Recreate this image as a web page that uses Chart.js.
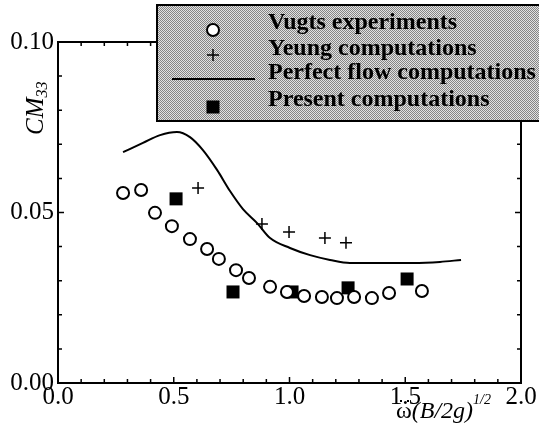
<!DOCTYPE html>
<html>
<head>
<meta charset="utf-8">
<script src="https://cdn.jsdelivr.net/npm/chart.js@4.4.1/dist/chart.umd.min.js"></script>
<style>
  body { margin: 0; background: #fff; }
  canvas { display: block; }
</style>
</head>
<body>
<canvas id="cm33" width="539" height="430"></canvas>
<script>
// Data
const vugtsX = [0.281, 0.359, 0.419, 0.492, 0.570, 0.644, 0.695, 0.769, 0.825, 0.916, 0.989, 1.063, 1.140, 1.205, 1.279, 1.356, 1.430, 1.572];
const vugtsY = [0.0557, 0.0566, 0.0499, 0.0460, 0.0422, 0.0393, 0.0364, 0.0331, 0.0308, 0.0282, 0.0267, 0.0255, 0.0252, 0.0249, 0.0252, 0.0249, 0.0264, 0.0270];

const yeungX = [0.605, 0.881, 0.998, 1.153, 1.244];
const yeungY = [0.0572, 0.0466, 0.0443, 0.0425, 0.0411];

const perfectX = [0.281, 0.367, 0.441, 0.514, 0.570, 0.626, 0.687, 0.743, 0.799, 0.860, 0.916, 1.002, 1.089, 1.175, 1.261, 1.348, 1.434, 1.533, 1.650, 1.741];
const perfectY = [0.0677, 0.0704, 0.0727, 0.0736, 0.0721, 0.0683, 0.0625, 0.0563, 0.0510, 0.0469, 0.0425, 0.0396, 0.0375, 0.0361, 0.0352, 0.0352, 0.0352, 0.0352, 0.0355, 0.0361];

const presentX = [0.510, 0.756, 1.011, 1.253, 1.508];
const presentY = [0.0540, 0.0267, 0.0267, 0.0279, 0.0305];

const xTicks = [0.0, 0.5, 1.0, 1.5, 2.0];
const xTickLabels = ['0.0', '0.5', '1.0', '1.5', '2.0'];
const yTicks = [0.0, 0.05, 0.10];
const yTickLabels = ['0.00', '0.05', '0.10'];

const legendLabels = ['Vugts experiments', 'Yeung computations', 'Perfect flow computations', 'Present computations'];

function pts(xs, ys) {
  return xs.map((x, i) => ({ x: x, y: ys[i] }));
}

const SERIF = '"Liberation Serif", "DejaVu Serif", serif';

// stippled grey like the scanned legend box
function stipple(ctx) {
  const c = document.createElement('canvas');
  c.width = 4; c.height = 4;
  const p = c.getContext('2d');
  p.fillStyle = '#e2e2e2';
  p.fillRect(0, 0, 4, 4);
  p.fillStyle = '#858585';
  p.fillRect(0, 0, 1, 1); p.fillRect(2, 0, 1, 1);
  p.fillRect(1, 1, 1, 1); p.fillRect(3, 1, 1, 1);
  p.fillRect(0, 2, 1, 1); p.fillRect(2, 2, 1, 1);
  p.fillRect(1, 3, 1, 1); p.fillRect(3, 3, 1, 1);
  return ctx.createPattern(c, 'repeat');
}

const framePlugin = {
  id: 'frame',
  afterDatasetsDraw(chart) {
    const ctx = chart.ctx;
    const xs = chart.scales.x, ys = chart.scales.y;
    const L = xs.left, R = xs.right, T = ys.top, B = ys.bottom;
    const boxL = 157, boxT = 5, boxB = 121;

    ctx.save();
    ctx.strokeStyle = '#000';
    ctx.lineWidth = 2;
    ctx.beginPath();
    ctx.moveTo(boxL, T); ctx.lineTo(L, T); ctx.lineTo(L, B);
    ctx.lineTo(R, B); ctx.lineTo(R, boxB);
    ctx.stroke();

    // ticks (inward)
    ctx.lineWidth = 1.5;
    ctx.beginPath();
    for (let i = 0; i <= 20; i++) {
      const v = i / 10;
      const px = xs.getPixelForValue(v);
      const len = (i % 5 === 0) ? 6 : 4;
      ctx.moveTo(px, B); ctx.lineTo(px, B - len);
      if (px < boxL) { ctx.moveTo(px, T); ctx.lineTo(px, T + len); }
    }
    for (let i = 0; i <= 10; i++) {
      const v = i / 100;
      const py = ys.getPixelForValue(v);
      const len = (i % 5 === 0) ? 6 : 4;
      ctx.moveTo(L, py); ctx.lineTo(L + len, py);
      if (py > boxB) { ctx.moveTo(R, py); ctx.lineTo(R - len, py); }
    }
    ctx.stroke();

    // tick labels
    ctx.fillStyle = '#000';
    ctx.font = '25px ' + SERIF;
    ctx.textBaseline = 'middle';
    ctx.textAlign = 'center';
    xTicks.forEach((v, i) => {
      ctx.fillText(xTickLabels[i], xs.getPixelForValue(v), B + 14);
    });
    ctx.textAlign = 'right';
    yTicks.forEach((v, i) => {
      ctx.fillText(yTickLabels[i], L - 4, ys.getPixelForValue(v));
    });

    // y title: CM33 rotated
    ctx.save();
    ctx.translate(36, 110);
    ctx.rotate(-Math.PI / 2);
    ctx.textAlign = 'left';
    ctx.textBaseline = 'middle';
    ctx.font = 'italic 25px ' + SERIF;
    const cmW = ctx.measureText('CM').width;
    ctx.fillText('CM', -25, 0);
    ctx.font = 'italic 16px ' + SERIF;
    ctx.fillText('33', -25 + cmW, 7);
    ctx.restore();

    // x title: ω(B/2g)^1/2
    ctx.textAlign = 'left';
    ctx.textBaseline = 'alphabetic';
    let x0 = 396;
    const base = 418;
    ctx.font = '24px ' + SERIF;
    ctx.fillText('ω', x0, base);
    const wW = ctx.measureText('ω').width;
    ctx.fillRect(x0 + 4, base - 18, 2, 2);
    ctx.fillRect(x0 + 11, base - 18, 2, 2);
    x0 += wW;
    ctx.font = 'italic 24px ' + SERIF;
    ctx.fillText('(B/2g)', x0, base);
    x0 += ctx.measureText('(B/2g)').width;
    ctx.font = 'italic 14px ' + SERIF;
    ctx.fillText('1/2', x0, base - 14);

    // legend box
    ctx.fillStyle = stipple(ctx);
    ctx.fillRect(boxL, boxT, chart.width - boxL + 2, boxB - boxT);
    ctx.strokeStyle = '#000';
    ctx.lineWidth = 2;
    ctx.beginPath();
    ctx.moveTo(chart.width, boxT); ctx.lineTo(boxL, boxT);
    ctx.lineTo(boxL, boxB); ctx.lineTo(chart.width, boxB);
    ctx.stroke();

    const markY = [30, 55, 79, 107];
    const textY = [29, 55, 79, 106];
    const mx = 213;
    // circle
    ctx.beginPath();
    ctx.arc(mx, markY[0], 6, 0, Math.PI * 2);
    ctx.fillStyle = '#fff';
    ctx.fill();
    ctx.lineWidth = 2;
    ctx.stroke();
    // plus
    ctx.lineWidth = 1.5;
    ctx.beginPath();
    ctx.moveTo(mx - 6, markY[1]); ctx.lineTo(mx + 6, markY[1]);
    ctx.moveTo(mx, markY[1] - 6); ctx.lineTo(mx, markY[1] + 6);
    ctx.stroke();
    // line
    ctx.lineWidth = 2;
    ctx.beginPath();
    ctx.moveTo(172, markY[2]); ctx.lineTo(255, markY[2]);
    ctx.stroke();
    // square
    ctx.fillStyle = '#000';
    ctx.fillRect(mx - 6.5, markY[3] - 6.5, 13, 13);

    ctx.font = 'bold 24px ' + SERIF;
    ctx.textAlign = 'left';
    ctx.textBaseline = 'alphabetic';
    legendLabels.forEach((t, i) => ctx.fillText(t, 268, textY[i]));
    ctx.restore();
  }
};

new Chart(document.getElementById('cm33'), {
  type: 'scatter',
  data: {
    datasets: [
      {
        label: legendLabels[0],
        data: pts(vugtsX, vugtsY),
        pointStyle: 'circle',
        pointRadius: 6,
        pointBackgroundColor: '#fff',
        pointBorderColor: '#000',
        pointBorderWidth: 2,
        showLine: false
      },
      {
        label: legendLabels[1],
        data: pts(yeungX, yeungY),
        pointStyle: 'cross',
        pointRadius: 6,
        pointBorderColor: '#000',
        pointBorderWidth: 1.5,
        showLine: false
      },
      {
        label: legendLabels[2],
        data: pts(perfectX, perfectY),
        showLine: true,
        pointRadius: 0,
        borderColor: '#000',
        borderWidth: 2,
        cubicInterpolationMode: 'monotone'
      },
      {
        label: legendLabels[3],
        data: pts(presentX, presentY),
        pointStyle: 'rect',
        pointRadius: 9.2,
        pointBackgroundColor: '#000',
        pointBorderColor: '#000',
        pointBorderWidth: 0,
        showLine: false
      }
    ]
  },
  options: {
    responsive: false,
    animation: false,
    layout: { padding: { left: 58, right: 18, top: 42, bottom: 47 } },
    plugins: { legend: { display: false }, tooltip: { enabled: false } },
    scales: {
      x: { type: 'linear', min: 0, max: 2, display: false },
      y: { type: 'linear', min: 0, max: 0.1, display: false }
    }
  },
  plugins: [framePlugin]
});
</script>
</body>
</html>
